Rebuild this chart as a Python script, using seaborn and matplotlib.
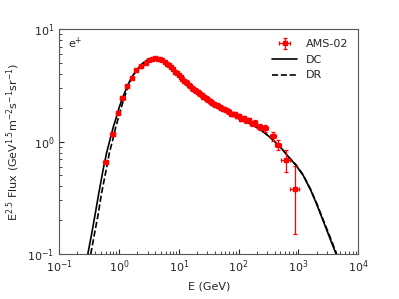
import numpy as np
import pandas as pd
import matplotlib
matplotlib.use("Agg")
import matplotlib.pyplot as plt
import seaborn as sns

# AMS-02 positron data (E in GeV, E^2.5 flux)
ams_e = [0.60, 0.78, 0.96, 1.14, 1.38, 1.63, 1.95, 2.31, 2.8, 3.18, 3.6, 4.0, 4.4, 4.8,
         5.3, 5.8, 6.3, 6.9, 7.4, 8.0, 8.6, 9.3, 10.0, 10.7, 11.4, 12.2, 13.0, 13.8,
         14.7, 15.6, 16.5, 17.5, 18.5, 19.5, 20.5, 21.6, 22.8, 24.0, 25.2, 26.5, 28.0,
         29.4, 31.0, 32.6, 34.4, 36.3, 38.3, 40.5, 42.8, 45.3, 47.9, 50.8, 54.0, 57.3,
         61.0, 65.1, 69.6, 74.6, 80.1, 86.2, 93.1, 100.7, 110, 121, 134, 149, 167, 190,
         226, 280, 380, 458, 617, 870]
ams_flux = [0.66, 1.16, 1.80, 2.47, 3.11, 3.71, 4.31, 4.68, 5.0, 5.3, 5.45, 5.5, 5.45, 5.4,
            5.3, 5.15, 4.95, 4.77, 4.6, 4.4, 4.2, 4.05, 3.9, 3.75, 3.6, 3.5, 3.4, 3.3,
            3.2, 3.1, 3.0, 2.95, 2.88, 2.8, 2.74, 2.7, 2.64, 2.58, 2.52, 2.48, 2.44,
            2.4, 2.35, 2.3, 2.26, 2.22, 2.18, 2.14, 2.1, 2.08, 2.05, 1.98, 1.97, 1.95,
            1.93, 1.88, 1.84, 1.78, 1.76, 1.78, 1.68, 1.70, 1.60, 1.62, 1.55, 1.56, 1.46, 1.46,
            1.35, 1.31, 1.12, 0.94, 0.69, 0.38]
# relative flux errors
ams_rel_err = [0.04, 0.04, 0.03, 0.03, 0.03, 0.03, 0.03, 0.03, 0.02, 0.02, 0.02, 0.02, 0.02, 0.02,
               0.02, 0.02, 0.02, 0.02, 0.02, 0.02, 0.02, 0.02, 0.02, 0.02, 0.02, 0.02, 0.02, 0.02,
               0.02, 0.02, 0.02, 0.02, 0.02, 0.02, 0.02, 0.02, 0.02, 0.02, 0.02, 0.02, 0.02,
               0.02, 0.02, 0.02, 0.02, 0.02, 0.02, 0.03, 0.03, 0.03, 0.03, 0.03, 0.03, 0.03,
               0.03, 0.03, 0.03, 0.03, 0.03, 0.03, 0.04, 0.04, 0.04, 0.04, 0.05, 0.05, 0.05, 0.06,
               0.06, 0.07, 0.09, 0.11, 0.22, 0.60]
# relative half-width of the energy bins
ams_rel_ebin = [0.10, 0.10, 0.09, 0.09, 0.08, 0.08, 0.07, 0.07, 0.06, 0.05, 0.05, 0.05, 0.05, 0.05,
                0.04, 0.04, 0.04, 0.04, 0.04, 0.04, 0.04, 0.03, 0.03, 0.03, 0.03, 0.03, 0.03, 0.03,
                0.03, 0.03, 0.03, 0.03, 0.03, 0.03, 0.03, 0.03, 0.03, 0.03, 0.03, 0.03, 0.03,
                0.03, 0.03, 0.03, 0.03, 0.03, 0.03, 0.03, 0.03, 0.03, 0.03, 0.03, 0.03, 0.03,
                0.03, 0.03, 0.03, 0.03, 0.03, 0.04, 0.04, 0.04, 0.05, 0.05, 0.05, 0.05, 0.06, 0.07,
                0.09, 0.11, 0.12, 0.13, 0.17, 0.18]

# model curves (diffusion-convection and diffusion-reacceleration)
dc_e = [0.30, 0.35, 0.40, 0.45, 0.50, 0.55, 0.62, 0.70, 0.80, 0.90, 1.0, 1.1, 1.2, 1.35, 1.5,
        1.75, 2.0, 2.5, 3.0, 3.4, 3.8, 4.3, 5.0, 5.7, 6.5, 7.2, 8.0, 9.0, 10, 11.5, 13, 16, 20,
        25, 30, 40, 60, 80, 100, 150, 200, 270, 330, 400, 470, 550, 700, 900, 1200, 1600,
        2000, 2700, 3500, 4250]
dc_flux = [0.10, 0.154, 0.23, 0.33, 0.45, 0.59, 0.80, 1.03, 1.35, 1.65, 2.0, 2.32, 2.62, 3.05, 3.45,
           3.98, 4.4, 5.0, 5.33, 5.47, 5.5, 5.45, 5.3, 5.1, 4.85, 4.6, 4.35, 4.07, 3.8, 3.58, 3.4,
           3.05, 2.75, 2.53, 2.38, 2.12, 1.9, 1.74, 1.6, 1.46, 1.34, 1.2, 1.1, 1.0, 0.92, 0.84,
           0.72, 0.62, 0.5, 0.37, 0.28, 0.186, 0.13, 0.10]
dr_e = [0.336, 0.39, 0.45, 0.50, 0.56, 0.62, 0.69, 0.78, 0.88, 0.98, 1.08, 1.16, 1.25, 1.37,
        1.5, 1.75, 2.0, 2.5, 3.0, 3.4, 3.8, 4.3, 5.0, 5.7, 6.5, 7.2, 8.0, 9.0, 10, 11.5, 13, 16,
        20, 25, 30, 40, 60, 80, 100, 150, 200, 270, 330, 400, 470, 550, 700, 900, 1200, 1600,
        2000, 2700, 3500, 4350]
dr_flux = [0.10, 0.154, 0.23, 0.33, 0.45, 0.59, 0.80, 1.03, 1.35, 1.65, 1.98, 2.27, 2.55, 2.95,
           3.35, 3.92, 4.35, 4.97, 5.32, 5.46, 5.5, 5.45, 5.3, 5.1, 4.85, 4.6, 4.35, 4.07, 3.8,
           3.58, 3.4, 3.05, 2.75, 2.53, 2.38, 2.12, 1.9, 1.74, 1.6, 1.46, 1.34, 1.2, 1.1, 1.0,
           0.92, 0.84, 0.72, 0.625, 0.505, 0.375, 0.285, 0.19, 0.135, 0.10]

sns.set_style("ticks")
plt.rcParams['font.family'] = ['DejaVu Sans']
plt.rcParams['font.size'] = 8

e = np.array(ams_e)
f = np.array(ams_flux)
yerr = f * np.array(ams_rel_err)
xerr = e * np.array(ams_rel_ebin)

fig = plt.figure(figsize=(3.99, 2.99), dpi=100)
ax = fig.add_axes([0.1486, 0.1505, 0.7494, 0.7515])

ax.errorbar(e, f, yerr=yerr, xerr=xerr, fmt='s', color='red', ms=2.2, lw=0.9,
            capsize=1.5, capthick=0.9, label='AMS-02', zorder=3)
sns.lineplot(x=dc_e, y=dc_flux, color='black', lw=1.2, ax=ax, label='DC', zorder=2)
sns.lineplot(x=dr_e, y=dr_flux, color='black', lw=1.2, ls='--', ax=ax, label='DR', zorder=2)

ax.set_xscale('log')
ax.set_yscale('log')
ax.set_xlim(0.1, 1e4)
ax.set_ylim(0.1, 10)
ax.set_xlabel('E (GeV)', fontsize=8)
ax.set_ylabel(r'E$^{2.5}$ Flux (GeV$^{1.5}$m$^{-2}$s$^{-1}$sr$^{-1}$)', fontsize=8)
ax.tick_params(which='both', direction='in', labelsize=8)
ax.tick_params(which='major', length=3.5)
ax.tick_params(which='minor', length=2)
for s in ax.spines.values():
    s.set_color('0.35')
ax.text(0.03, 0.97, r'e$^{+}$', transform=ax.transAxes, ha='left', va='top', fontsize=8)

handles, labels = ax.get_legend_handles_labels()
order = [labels.index(n) for n in ['AMS-02', 'DC', 'DR']]
ax.legend([handles[i] for i in order], [labels[i] for i in order],
          loc='upper right', frameon=False, fontsize=8, handlelength=2.2)

fig.savefig('out.png', dpi=100)
